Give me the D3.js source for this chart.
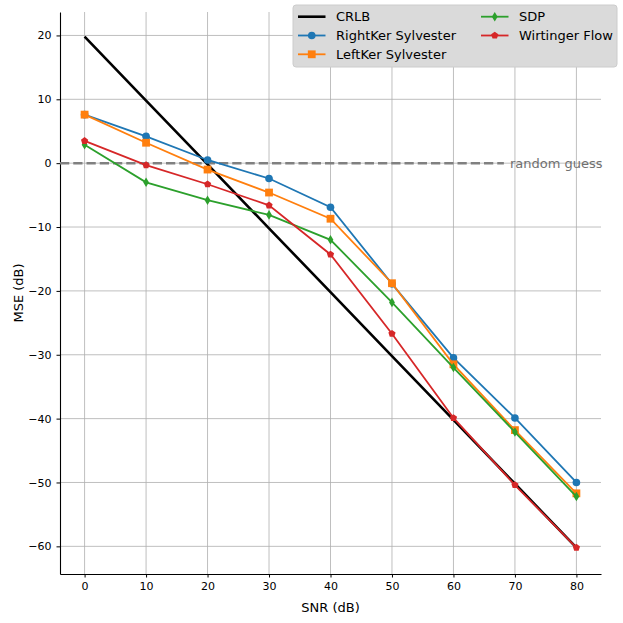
<!DOCTYPE html>
<meta charset="utf-8">
<script src="https://d3js.org/d3.v7.min.js"></script>
<style>
  * { margin: 0; padding: 0; }
  body { background: #fff; }
  text { font-family: "DejaVu Sans", sans-serif; fill: #000; }
  .grid line { stroke: #b0b0b0; stroke-width: 1; opacity: 0.8; }
  .axis path, .axis line { stroke: #000; }
  .axis text { font-size: 11px; }
</style>
<body>
<div id="chart"></div>
<script>
// data
var snr = [0, 10, 20, 30, 40, 50, 60, 70, 80];
var crlb = [19.8, 9.8, -0.2, -10.2, -20.2, -30.2, -40.2, -50.2, -60.2];
var rightKer = [7.6, 4.2, 0.5, -2.4, -6.9, -18.9, -30.5, -39.9, -50.0];
var leftKer = [7.6, 3.2, -1.0, -4.6, -8.7, -18.8, -31.5, -41.8, -51.7];
var sdp = [2.9, -3.0, -5.8, -8.1, -12.0, -21.8, -32.0, -42.1, -52.2];
var wirtinger = [3.5, -0.3, -3.3, -6.6, -14.3, -26.7, -39.9, -50.4, -60.2];
var xTicks = [0, 10, 20, 30, 40, 50, 60, 70, 80];
var yTicks = [20, 10, 0, -10, -20, -30, -40, -50, -60];

var series = [
  {name: "RightKer Sylvester", values: rightKer, color: "#1f77b4", marker: "circle"},
  {name: "LeftKer Sylvester", values: leftKer, color: "#ff7f0e", marker: "square"},
  {name: "SDP", values: sdp, color: "#2ca02c", marker: "thin_diamond"},
  {name: "Wirtinger Flow", values: wirtinger, color: "#d62728", marker: "pentagon"}
];

var W = 623, H = 623;
var margin = {top: 12, right: 22, bottom: 49, left: 60};
var width = W - margin.left - margin.right,
    height = H - margin.top - margin.bottom;

var svg = d3.select("#chart").append("svg")
    .attr("width", W).attr("height", H)
  .append("g")
    .attr("transform", "translate(" + margin.left + "," + margin.top + ")");

var x = d3.scaleLinear().domain([-4, 84]).range([0, width]);
var y = d3.scaleLinear().domain([-64.33, 23.67]).range([height, 0]);

// grid
svg.append("g").attr("class", "grid")
  .selectAll("line.v").data(xTicks).enter().append("line")
    .attr("x1", d => x(d)).attr("x2", d => x(d))
    .attr("y1", 0).attr("y2", height);
svg.append("g").attr("class", "grid")
  .selectAll("line.h").data(yTicks).enter().append("line")
    .attr("x1", 0).attr("x2", width)
    .attr("y1", d => y(d)).attr("y2", d => y(d));

// axes
var fmt = d => (d < 0 ? "\u2212" + Math.abs(d) : "" + d);
var xAxis = svg.append("g").attr("class", "axis")
  .attr("transform", "translate(0," + height + ")")
  .call(d3.axisBottom(x).tickValues(xTicks).tickFormat(fmt).tickSize(3.5).tickPadding(5).tickSizeOuter(0));
var yAxis = svg.append("g").attr("class", "axis")
  .call(d3.axisLeft(y).tickValues(yTicks).tickFormat(fmt).tickSize(3.5).tickPadding(5).tickSizeOuter(0));
xAxis.select(".domain").attr("stroke-width", 1.1);
yAxis.select(".domain").attr("stroke-width", 1.1);

svg.append("text")
  .attr("x", width / 2).attr("y", height + 38)
  .attr("text-anchor", "middle").style("font-size", "13px")
  .text("SNR (dB)");
svg.append("text")
  .attr("transform", "translate(" + (-37) + "," + (height / 2) + ") rotate(-90)")
  .attr("text-anchor", "middle").style("font-size", "13px")
  .text("MSE (dB)");

// random guess line
svg.append("line")
  .attr("x1", 0).attr("x2", x(68.2))
  .attr("y1", y(0)).attr("y2", y(0))
  .attr("stroke", "#808080").attr("stroke-width", 2.5)
  .attr("stroke-dasharray", "9.25,4");
svg.append("text")
  .attr("x", x(69.2)).attr("y", y(0)).attr("dy", "0.35em")
  .style("font-size", "13px").style("fill", "#707070")
  .text("random guess");

// markers
function markerPath(kind) {
  if (kind === "circle") return d3.symbol(d3.symbolCircle, 46)();
  if (kind === "square") return "M-3.9,-3.9L3.9,-3.9L3.9,3.9L-3.9,3.9Z";
  if (kind === "thin_diamond") return "M0,-4.8L2.9,0L0,4.8L-2.9,0Z";
  // pentagon
  var pts = d3.range(5).map(function(i) {
    var a = -Math.PI / 2 + i * 2 * Math.PI / 5;
    return [3.8 * Math.cos(a), 3.8 * Math.sin(a)];
  });
  return "M" + pts.join("L") + "Z";
}

var line = d3.line().x((d, i) => x(snr[i])).y(d => y(d));

// CRLB
svg.append("path").datum(crlb)
  .attr("d", line).attr("fill", "none")
  .attr("stroke", "#000").attr("stroke-width", 2.6);

series.forEach(function(s) {
  svg.append("path").datum(s.values)
    .attr("d", line).attr("fill", "none")
    .attr("stroke", s.color).attr("stroke-width", 1.8);
  svg.append("g").selectAll("path").data(s.values).enter().append("path")
    .attr("d", markerPath(s.marker))
    .attr("transform", (d, i) => "translate(" + x(snr[i]) + "," + y(d) + ")")
    .attr("fill", s.color);
});

// legend
var lg = svg.append("g").attr("transform", "translate(" + (293 - margin.left) + "," + (5 - margin.top) + ")");
lg.append("rect")
  .attr("width", 324).attr("height", 62).attr("rx", 3)
  .attr("fill", "#dadada").attr("stroke", "#cccccc");

var legendItems = [{name: "CRLB", color: "#000", marker: null, lw: 2.6}]
  .concat(series.map(s => ({name: s.name, color: s.color, marker: s.marker, lw: 1.8})));
legendItems.forEach(function(it, i) {
  var col = i < 3 ? 0 : 1, row = i < 3 ? i : i - 3;
  var gx = col === 0 ? 5 : 188, gy = 11.7 + row * 18.8;
  var g = lg.append("g").attr("transform", "translate(" + gx + "," + gy + ")");
  g.append("line").attr("x1", 0).attr("x2", 27.5).attr("y1", 0).attr("y2", 0)
    .attr("stroke", it.color).attr("stroke-width", it.lw);
  if (it.marker) g.append("path").attr("d", markerPath(it.marker))
    .attr("transform", "translate(13.75,0)").attr("fill", it.color);
  g.append("text").attr("x", 38).attr("dy", "0.35em")
    .style("font-size", "13px").text(it.name);
});
</script>
</body>
